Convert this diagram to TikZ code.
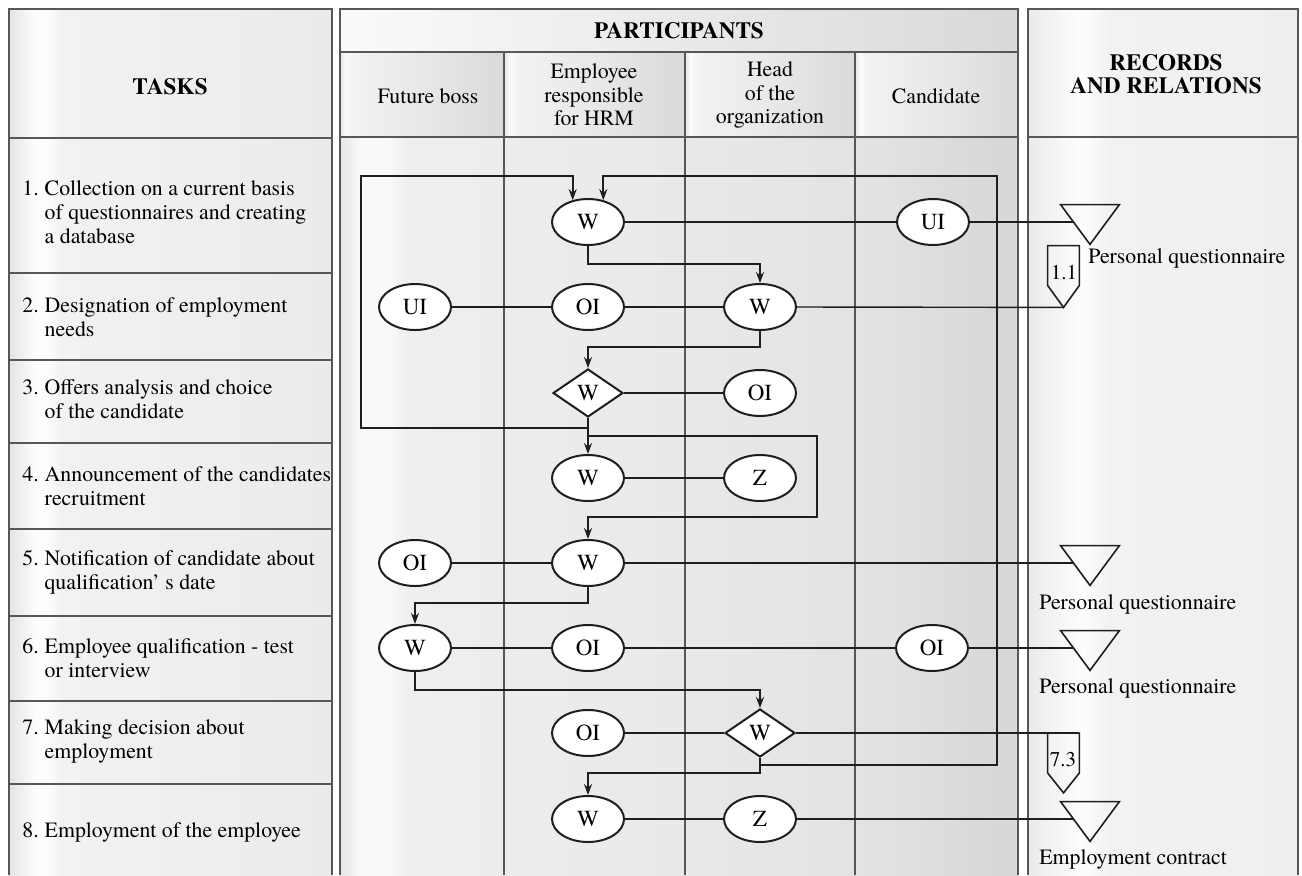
\documentclass[tikz,border=0pt]{standalone}
\usepackage{fontspec}
\IfFontExistsTF{texgyretermes-regular.otf}{%
  \setmainfont{texgyretermes}[Extension=.otf,UprightFont=*-regular,BoldFont=*-bold,
    ItalicFont=*-italic,BoldItalicFont=*-bolditalic]}{%
  \setmainfont{Liberation Serif}}
\usetikzlibrary{shapes.geometric,arrows.meta,calc}

\definecolor{frame}{HTML}{575757}
\definecolor{ink}{HTML}{1E1E1E}
% tones for the task column
\definecolor{tA}{HTML}{E4E4E4}
\definecolor{tB}{HTML}{F0F0F0}
\definecolor{tC}{HTML}{FDFDFD}
\definecolor{tD}{HTML}{F2F2F2}
\definecolor{tE}{HTML}{EBEBEB}
% tones for the participant lanes
\definecolor{pA}{HTML}{E6E6E6}
\definecolor{pB}{HTML}{F9F9F9}
\definecolor{pC}{HTML}{EFEFEF}
\definecolor{pD}{HTML}{E9E9E9}
\definecolor{pE}{HTML}{E2E2E2}
\definecolor{pF}{HTML}{D8D8D8}
% tones for header cells
\definecolor{cA}{HTML}{E4E4E4}
\definecolor{cB}{HTML}{FAFAFA}
\definecolor{cC}{HTML}{F2F2F2}
\definecolor{cD}{HTML}{E6E6E6}
\definecolor{cE}{HTML}{D9D9D9}
% tones for the records column
\definecolor{rA}{HTML}{EAEAEA}
\definecolor{rB}{HTML}{F6F6F6}
\definecolor{rC}{HTML}{FDFDFD}
\definecolor{rD}{HTML}{F2F2F2}
\definecolor{rE}{HTML}{EFEFEF}

\pgfdeclarehorizontalshading{taskshade}{100bp}{color(0bp)=(tA); color(25bp)=(tA); color(27bp)=(tB); color(29bp)=(tC); color(31bp)=(tC); color(33bp)=(tD); color(75bp)=(tE); color(100bp)=(tE)}
\pgfdeclarehorizontalshading{partshade}{100bp}{color(0bp)=(pA); color(25bp)=(pA); color(26.5bp)=(pB); color(28.5bp)=(pB); color(30bp)=(pC); color(50bp)=(pD); color(65bp)=(pE); color(73bp)=(pF); color(75bp)=(pF); color(100bp)=(pF)}
\pgfdeclarehorizontalshading{cellshade}{100bp}{color(0bp)=(cA); color(25bp)=(cA); color(26.5bp)=(cB); color(29bp)=(cC); color(55bp)=(cD); color(75bp)=(cE); color(100bp)=(cE)}
\pgfdeclarehorizontalshading{recshade}{100bp}{color(0bp)=(rA); color(25bp)=(rA); color(31bp)=(rB); color(35bp)=(rC); color(40bp)=(rD); color(75bp)=(rE); color(100bp)=(rE)}

\newcommand\tasktxt[2]{\begin{tabular}{@{}l@{\hspace{3pt}}l@{}}#1&#2\end{tabular}}

\begin{document}
\begin{tikzpicture}[x=0.5pt,y=-0.5pt,
  border/.style={draw=frame,line width=1.25pt},
  rowline/.style={draw=frame,line width=1pt},
  txt/.style={inner sep=0pt,font=\fontsize{10.9}{12}\selectfont},
  head/.style={inner sep=0pt,align=center,font=\fontsize{10.9}{11.7}\selectfont},
  bighead/.style={inner sep=0pt,align=center,font=\fontsize{11.6}{11.6}\selectfont\bfseries},
  act/.style={ellipse,draw=ink,line width=1pt,fill=white,minimum width=36pt,minimum height=23pt,inner sep=0pt,font=\fontsize{11.5}{12}\selectfont},
  dec/.style={diamond,draw=ink,line width=1pt,fill=white,minimum width=35pt,minimum height=24pt,inner sep=0pt,font=\fontsize{11.5}{12}\selectfont},
  flow/.style={draw=ink,line width=1.1pt,-{Stealth[length=5.5pt,width=4pt]}},
  link/.style={draw=ink,line width=0.7pt},
  rec/.style={draw=ink,line width=0.8pt},
  recbox/.style={inner sep=0pt,minimum width=15.5pt,minimum height=19.5pt},
  trbox/.style={inner sep=0pt,minimum width=29pt,minimum height=19.5pt},
  pagetxt/.style={inner sep=0pt,font=\fontsize{10.5}{11}\selectfont}
]
\useasboundingbox (0,0) rectangle (1302,875);

% ---------- column backgrounds ----------
\shade[shading=taskshade] (9,9) rectangle (332,875);
\shade[left color=cB,right color=cE] (340,9) rectangle (1018,52);
\shade[shading=cellshade] (340,52) rectangle (504,137);
\shade[shading=cellshade] (504,52) rectangle (685,137);
\shade[shading=cellshade] (685,52) rectangle (855,137);
\shade[shading=cellshade] (855,52) rectangle (1018,137);
\shade[shading=partshade] (340,137) rectangle (1018,875);
\shade[shading=recshade] (1028,9) rectangle (1298,875);

% ---------- frames ----------
\draw[border] (9,875) -- (9,9) -- (332,9) -- (332,875);
\draw[border] (9,138) -- (332,138);
\foreach \yy in {273,360,443,529,616,701,784}
  \draw[rowline] (9,\yy) -- (332,\yy);

\draw[border] (340,875) -- (340,9) -- (1018,9) -- (1018,875);
\draw[border] (340,52) -- (1018,52);
\draw[border] (340,137) -- (1018,137);
\foreach \xx in {504,685,855}
  \draw[border] (\xx,52) -- (\xx,875);

\draw[border] (1028,875) -- (1028,9) -- (1298,9) -- (1298,875);
\draw[border] (1028,137) -- (1298,137);

% ---------- headers ----------
\node[bighead] (hTasks) at (170,87) {TASKS};
\node[bighead] (hPart) at (679,31) {PARTICIPANTS};
\node[head] (hBoss) at (428,96) {Future boss};
\node[head] (hHrm) at (594,95) {Employee\\responsible\\for HRM};
\node[head] (hHead) at (770,95) {Head\\of the\\organization};
\node[head] (hCand) at (936,96) {Candidate};
\node[bighead,font=\fontsize{11.6}{11.5}\selectfont\bfseries] (hRec) at (1166,74) {RECORDS\\AND RELATIONS};

% ---------- task list ----------
\node[txt,anchor=west] (task1) at (22,215) {\tasktxt{1.}{Collection on a current basis\\&of questionnaires and creating\\&a database}};
\node[txt,anchor=west] (task2) at (22,320) {\tasktxt{2.}{Designation of employment\\&needs}};
\node[txt,anchor=west] (task3) at (22,402) {\tasktxt{3.}{Offers analysis and choice\\&of the candidate}};
\node[txt,anchor=west] (task4) at (22,489) {\tasktxt{4.}{Announcement of the candidates\\&recruitment}};
\node[txt,anchor=west] (task5) at (22,573) {\tasktxt{5.}{Notification of candidate about\\&qualification’ s date}};
\node[txt,anchor=west] (task6) at (22,661) {\tasktxt{6.}{Employee qualification - test\\&or interview}};
\node[txt,anchor=west] (task7) at (22,742) {\tasktxt{7.}{Making decision about\\&employment}};
\node[txt,anchor=west] (task8) at (22,833) {\tasktxt{8.}{Employment of the employee}};

% ---------- activities ----------
\node[act] (W1) at (588,222) {W};
\node[act] (UI1) at (933,222) {UI};
\node[act] (UI2) at (415,307) {UI};
\node[act] (OI2) at (588,307) {OI};
\node[act] (W2) at (760,307) {W};
\node[dec] (D3) at (588,393) {W};
\node[act] (OI3) at (760,393) {OI};
\node[act] (W4) at (588,478) {W};
\node[act] (Z4) at (760,478) {Z};
\node[act] (OI5) at (415,563) {OI};
\node[act] (W5) at (588,563) {W};
\node[act] (W6) at (415,648) {W};
\node[act] (OI6) at (588,648) {OI};
\node[act] (OI6c) at (932,648) {OI};
\node[act] (OI7) at (588,733) {OI};
\node[dec] (D7) at (760,733) {W};
\node[act] (W8) at (588,819) {W};
\node[act] (Z8) at (760,819) {Z};

% ---------- records (triangles) ----------
\node[trbox] (tr1) at (1090,224.5) {};
\node[trbox] (tr5) at (1090,565.5) {};
\node[trbox] (tr6) at (1090,650.5) {};
\node[trbox] (tr8) at (1090,821.5) {};
\foreach \t in {tr1,tr5,tr6,tr8}{
  \draw[rec] (\t.north west) -- (\t.north east) -- (\t.south) -- cycle;
  \coordinate (\t in) at ($(\t.north west)!0.436!(\t.south)$);
}
\node[txt,anchor=west] (lab1) at (1088,258) {Personal questionnaire};
\node[txt,anchor=west] (lab5) at (1039,604) {Personal questionnaire};
\node[txt,anchor=west] (lab6) at (1039,688) {Personal questionnaire};
\node[txt,anchor=west] (lab8) at (1039,859) {Employment contract};

% ---------- relation connectors ----------
\node[recbox] (pg1) at (1063.5,265.5) {};
\draw[rec] (pg1.south west) -- (pg1.north west) -- (pg1.north east) -- (pg1.south east)
  -- ($(pg1.south)+(0,22)$) coordinate (pg1tip) -- cycle;
\node[pagetxt] (pg1t) at (1064,273) {1.1};

\node[recbox] (pg7) at (1063.5,753) {};
\draw[rec] (pg7.south west) -- (pg7.north west) -- (pg7.north east) -- (pg7.south east)
  -- ($(pg7.south)+(0,20)$) coordinate (pg7tip) -- cycle;
\node[pagetxt] (pg7t) at (1063,760) {7.3};

% ---------- associations ----------
\draw[link] (W1.east) -- (UI1.west);
\draw[link] (UI1.east) -- (UI1.east -| tr1in);
\draw[link] (UI2.east) -- (OI2.west);
\draw[link] (OI2.east) -- (W2.west);
\draw[link] (W2.east) -- (pg1tip);
\draw[link] (D3.east) -- (OI3.west);
\draw[link] (W4.east) -- (Z4.west);
\draw[link] (OI5.east) -- (W5.west);
\draw[link] (W5.east) -- (W5.east -| tr5in);
\draw[link] (W6.east) -- (OI6.west);
\draw[link] (OI6.east) -- (OI6c.west);
\draw[link] (OI6c.east) -- (OI6c.east -| tr6in);
\draw[link] (OI7.east) -- (D7.west);
\draw[link] (D7.east) -- (D7.east -| pg7.north east);
\draw[link] (W8.east) -- (Z8.west);
\draw[link] (Z8.east) -- (Z8.east -| tr8in);

% ---------- flow of work ----------
\draw[flow] (W1.south) -- (W1.south |- 0,264) -| (W2.north);
\draw[flow] (W2.south) -- (W2.south |- 0,347) -| (D3.north);
\draw[flow] (D3.south) -- (W4.north);
\draw[flow] (D3.south) |- (361,428) |- (W1.125 |- 0,176) -- (W1.125);
\draw[flow] (D3.south) |- (817,436) |- (W5.north |- 0,517) -- (W5.north);
\draw[flow] (W5.south) -- (W5.south |- 0,603) -| (W6.north);
\draw[flow] (W6.south) -- (W6.south |- 0,690) -| (D7.north);
\draw[flow] (D7.south) |- (997,765) |- (W1.55 |- 0,176) -- (W1.55);
\draw[flow] (D7.south) -- (D7.south |- 0,773) -| (W8.north);
\end{tikzpicture}
\end{document}
